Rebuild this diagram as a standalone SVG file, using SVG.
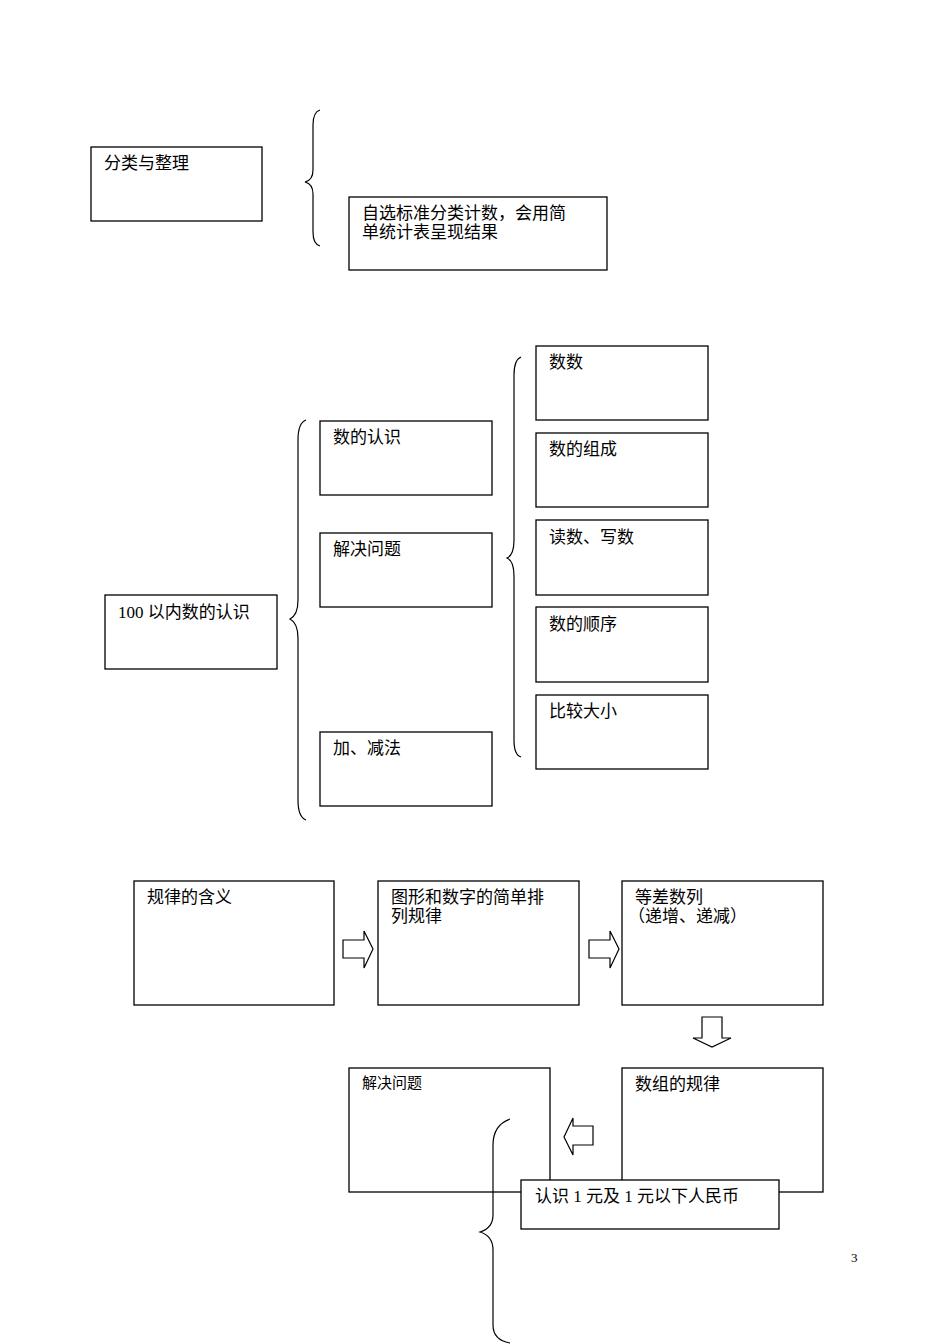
<svg xmlns="http://www.w3.org/2000/svg" width="950" height="1344" viewBox="0 0 950 1344">
<style>
.n{fill:#fff;stroke:#000;stroke-width:1.3}
.b{fill:none;stroke:#000;stroke-width:1.2}
.a{fill:#fff;stroke:#000;stroke-width:1.2}
text{font-family:"Liberation Serif","Noto Sans CJK SC",serif;font-size:17px;fill:#000}
</style>
<rect width="950" height="1344" fill="#fff"/>
<g id="n1"><rect class="n" x="91" y="147" width="171" height="74"/><text x="104" y="169">分类与整理</text></g>
<g id="n2"><rect class="n" x="349" y="197" width="258" height="73"/><text x="362" y="219">自选标准分类计数，会用简</text><text x="362" y="238">单统计表呈现结果</text></g>
<g id="n3"><rect class="n" x="105" y="595" width="172" height="74"/><text x="118" y="618">100 以内数的认识</text></g>
<g id="n4"><rect class="n" x="320" y="421" width="172" height="74"/><text x="333" y="443">数的认识</text></g>
<g id="n5"><rect class="n" x="320" y="533" width="172" height="74"/><text x="333" y="555">解决问题</text></g>
<g id="n6"><rect class="n" x="320" y="732" width="172" height="74"/><text x="333" y="754">加、减法</text></g>
<g id="n7"><rect class="n" x="536" y="346" width="172" height="74"/><text x="549" y="368">数数</text></g>
<g id="n8"><rect class="n" x="536" y="433" width="172" height="74"/><text x="549" y="455">数的组成</text></g>
<g id="n9"><rect class="n" x="536" y="520" width="172" height="75"/><text x="549" y="543">读数、写数</text></g>
<g id="n10"><rect class="n" x="536" y="607" width="172" height="75"/><text x="549" y="630">数的顺序</text></g>
<g id="n11"><rect class="n" x="536" y="695" width="172" height="74"/><text x="549" y="717">比较大小</text></g>
<g id="n12"><rect class="n" x="134" y="881" width="200" height="124"/><text x="147" y="903">规律的含义</text></g>
<g id="n13"><rect class="n" x="378" y="881" width="201" height="124"/><text x="391" y="903">图形和数字的简单排</text><text x="391" y="922">列规律</text></g>
<g id="n14"><rect class="n" x="622" y="881" width="201" height="124"/><text x="635" y="903">等差数列</text><text x="628" y="922">（递增、递减）</text></g>
<g id="n15"><rect class="n" x="349" y="1068" width="201" height="124"/><text x="362" y="1088" style="font-size:15px">解决问题</text></g>
<g id="n16"><rect class="n" x="622" y="1068" width="201" height="124"/><text x="635" y="1090">数组的规律</text></g>
<g id="n17"><rect class="n" x="521" y="1180" width="258" height="49"/><text x="535" y="1202">认识 1 元及 1 元以下人民币</text></g>
<g id="connectors">
<path class="b" d="M320 110 Q313 112 313 125 L313 170 Q313 180 305 182 Q313 184 313 194 L313 232 Q313 244 320 246"/>
<path class="b" d="M306 420 Q298 423 298 440 L298 600 Q298 615 290 619 Q298 623 298 638 L298 800 Q298 817 306 820"/>
<path class="b" d="M521 357 Q514 360 514 375 L514 540 Q514 555 507 558 Q514 561 514 576 L514 740 Q514 755 521 757"/>
<path class="b" d="M510 1119 Q493 1125 493 1145 L493 1215 Q493 1228 480 1232 Q493 1236 493 1250 L493 1325 Q493 1340 510 1343"/>
<path class="a" d="M343 940 H364 V931 L373 949 L364 968 V958 H343 Z"/>
<path class="a" d="M589 940 H610 V931 L619 949 L610 968 V958 H589 Z"/>
<path class="a" d="M702 1017 H722 V1038 H731 L712 1047 L693 1038 H702 Z"/>
<path class="a" d="M593 1126 H573 V1118 L564 1137 L573 1155 V1145 H593 Z"/>
</g>
<text x="851" y="1262" style="font-size:13px">3</text>
</svg>
